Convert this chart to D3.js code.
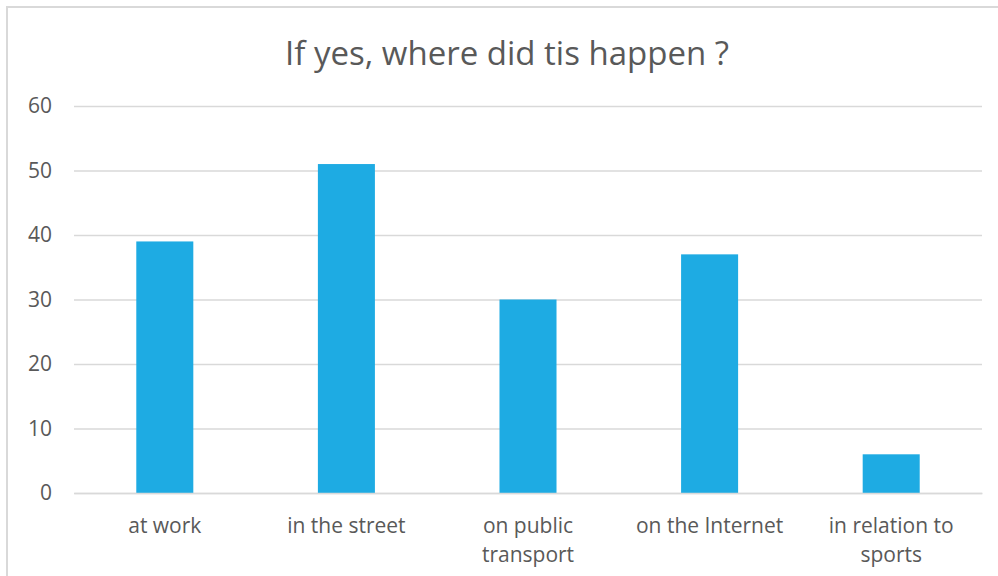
<!DOCTYPE html>
<html>
<head>
<meta charset="utf-8">
<script src="https://cdn.jsdelivr.net/npm/d3@7"></script>
<style>
  html, body { margin: 0; padding: 0; background: #fff; }
  svg { display: block; }
  svg text { font-family: "Open Sans", "Segoe UI", sans-serif; }
</style>
</head>
<body>
<svg id="chart" width="998" height="576"></svg>
<script>
// Where the incidents happened (counts)
const categories = ["at work", "in the street", "on public\ntransport", "on the Internet", "in relation to\nsports"];
const values = [39, 51, 30, 37, 6];
const yTicks = [0, 10, 20, 30, 40, 50, 60];
const title = "If yes, where did tis happen ?";

const svg = d3.select("#chart");
const W = 998, H = 576;
const margin = { left: 74, right: 16, top: 106, bottom: 83 };
const FONT = "'Open Sans', 'Segoe UI', sans-serif";

// Chart frame
svg.append("rect")
  .attr("x", 7).attr("y", 7)
  .attr("width", W + 10).attr("height", H + 10)
  .attr("fill", "#fff")
  .attr("stroke", "#d9d9d9").attr("stroke-width", 2);

const x = d3.scaleBand()
  .domain(categories)
  .range([margin.left, W - margin.right])
  .paddingInner(0.686)
  .paddingOuter(0.343);

const y = d3.scaleLinear()
  .domain([0, 60])
  .range([H - margin.bottom, margin.top]);

// Gridlines and y labels
const yAxis = d3.axisLeft(y)
  .tickValues(yTicks)
  .tickSize(-(W - margin.right - margin.left))
  .tickPadding(22)
  .tickFormat(d3.format("d"));

const gy = svg.append("g")
  .attr("transform", `translate(${margin.left},0)`)
  .call(yAxis)
  .attr("font-family", FONT);
gy.select(".domain").remove();
gy.selectAll(".tick line").attr("stroke", "#d9d9d9").attr("stroke-width", 1.5);
gy.selectAll(".tick text")
  .attr("fill", "#595959")
  .attr("font-size", 21);

// Bars
svg.append("g").selectAll("rect")
  .data(categories)
  .join("rect")
  .attr("x", d => x(d))
  .attr("width", x.bandwidth())
  .attr("y", (d, i) => y(values[i]))
  .attr("height", (d, i) => y(0) - y(values[i]))
  .attr("fill", "#1eabe3");

// Category labels (multi-line)
const xAxis = d3.axisBottom(x).tickSize(0).tickPadding(0).tickFormat("");
const gx = svg.append("g")
  .attr("transform", `translate(0,${y(0)})`)
  .call(xAxis)
  .attr("font-family", FONT);
gx.select(".domain").attr("stroke", "#d9d9d9").attr("stroke-width", 1.5);
gx.selectAll(".tick").each(function(d) {
  const t = d3.select(this).select("text")
    .attr("fill", "#595959")
    .attr("font-size", 21)
    .attr("y", null)
    .attr("dy", null);
  d.split("\n").forEach((line, i) => {
    t.append("tspan")
      .attr("x", 0)
      .attr("y", 40 + i * 29)
      .text(line);
  });
});

// Title
svg.append("text")
  .attr("x", 507)
  .attr("y", 65)
  .attr("text-anchor", "middle")
  .attr("fill", "#595959")
  .attr("font-size", 33)
  .text(title);
</script>
</body>
</html>
